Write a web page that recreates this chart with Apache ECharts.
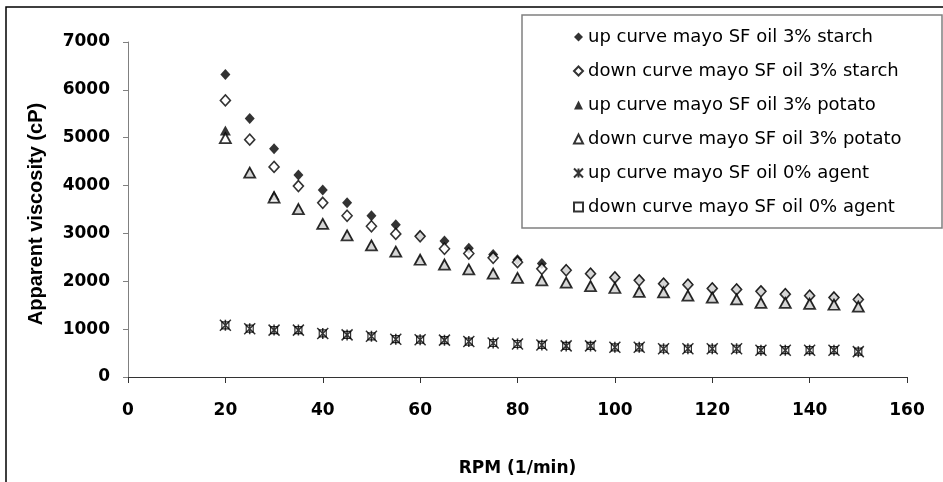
<!DOCTYPE html>
<html>
<head>
<meta charset="utf-8">
<script src="https://cdn.jsdelivr.net/npm/echarts@6/dist/echarts.min.js"></script>
<style>
html,body{margin:0;padding:0;background:#fff;}
#chart{width:943px;height:482px;}
</style>
</head>
<body>
<div id="chart"></div>
<script>
// RPM values (x)
var rpm = [20,25,30,35,40,45,50,55,60,65,70,75,80,85,90,95,100,105,110,115,120,125,130,135,140,145,150];
// Apparent viscosity (cP)
var upStarch   = [6320,5400,4770,4220,3910,3640,3370,3180,2950,2840,2690,2560,2450,2370,2240,2170,2090,2030,1960,1940,1860,1840,1800,1740,1710,1670,1630];
var downStarch = [5780,4960,4390,3990,3640,3370,3150,2990,2940,2680,2580,2490,2400,2260,2230,2160,2080,2020,1950,1930,1850,1830,1790,1730,1700,1660,1620];
var upPotato   = [5150,4280,3800,3520,3210,2970,2760,2630,2460,2360,2260,2170,2080,2030,1980,1910,1870,1790,1780,1710,1670,1630,1560,1560,1540,1520,1480];
var downPotato = [4990,4270,3750,3510,3200,2960,2750,2620,2450,2350,2250,2160,2070,2020,1970,1900,1860,1780,1770,1700,1660,1620,1550,1550,1530,1510,1470];
var upAgent    = [1080,1010,980,980,910,880,850,790,780,770,740,710,690,670,650,650,620,620,590,590,590,590,560,560,560,560,530];
var downAgent  = [1080,1010,980,980,910,880,850,790,780,770,740,710,690,670,650,650,620,620,590,590,590,590,560,560,560,560,530];
var seriesNames = [
  'up curve mayo SF oil 3% starch',
  'down curve mayo SF oil 3% starch',
  'up curve mayo SF oil 3% potato',
  'down curve mayo SF oil 3% potato',
  'up curve mayo SF oil 0% agent',
  'down curve mayo SF oil 0% agent'
];
var xTicks = {min:0, max:160, interval:20};
var yTicks = {min:0, max:7000, interval:1000};

function pairs(ys){ return rpm.map(function(x,i){ return [x, ys[i]]; }); }

var STAR = 'path://M0,0L10,10M10,0L0,10M5,0L5,10';
var wideFont = '"DejaVu Sans", sans-serif';

var chart = echarts.init(document.getElementById('chart'), null, {renderer:'canvas'});
chart.setOption({
  animation:false,
  backgroundColor:'#fff',
  grid:{left:128, top:42, right:36, bottom:103, containLabel:false},
  xAxis:{
    type:'value', min:xTicks.min, max:xTicks.max, interval:xTicks.interval,
    name:'RPM (1/min)', nameLocation:'middle', nameGap:83,
    nameTextStyle:{fontFamily:wideFont, fontWeight:'bold', fontSize:17, color:'#000'},
    axisLine:{onZero:false, lineStyle:{color:'#333', width:1}},
    axisTick:{show:true, inside:false, length:6, lineStyle:{color:'#333'}},
    axisLabel:{margin:25, fontFamily:wideFont, fontWeight:'bold', fontSize:17, color:'#000',
      formatter:function(v){ return String(v); }},
    splitLine:{show:false}
  },
  yAxis:{
    type:'value', min:yTicks.min, max:yTicks.max, interval:yTicks.interval,
    axisLine:{show:true, lineStyle:{color:'#808080', width:1}},
    axisTick:{show:true, inside:false, length:5, lineStyle:{color:'#808080'}},
    axisLabel:{margin:18, fontFamily:wideFont, fontWeight:'bold', fontSize:17, color:'#000',
      formatter:function(v){ return String(v); }},
    splitLine:{show:false}
  },
  legend:{
    orient:'vertical', left:573, top:28, padding:0,
    itemGap:16, itemWidth:9, itemHeight:9, itemTextGap:5,
    textStyle:{fontFamily:wideFont, fontSize:18, color:'#000', lineHeight:18},
    selectedMode:false,
    data:[
      {name:seriesNames[0], icon:'diamond'},
      {name:seriesNames[1], icon:'diamond'},
      {name:seriesNames[2], icon:'triangle'},
      {name:seriesNames[3], icon:'triangle'},
      {name:seriesNames[4], icon:STAR},
      {name:seriesNames[5], icon:'rect'}
    ]
  },
  graphic:[
    {type:'rect', silent:true, z:-1, shape:{x:6, y:7, width:1000, height:600}, style:{fill:'none', stroke:'#000', lineWidth:1.5}},
    {type:'rect', silent:true, z:-1, shape:{x:522, y:15, width:420, height:213}, style:{fill:'none', stroke:'#808080', lineWidth:1.5}},
    {type:'text', silent:true, x:36, y:214, rotation:Math.PI/2,
     style:{text:'Apparent viscosity (cP)', fontFamily:'"Liberation Sans", Arial, sans-serif', fontWeight:'bold', fontSize:20, fill:'#000', align:'center', verticalAlign:'middle'}}
  ],
  series:[
    {name:seriesNames[0], type:'scatter', data:pairs(upStarch), symbol:'diamond', symbolSize:[10,11],
     itemStyle:{color:'#000'}},
    {name:seriesNames[1], type:'scatter', data:pairs(downStarch), symbol:'diamond', symbolSize:[10,11],
     itemStyle:{color:'#fff', borderColor:'#000', borderWidth:1.6}},
    {name:seriesNames[2], type:'scatter', data:pairs(upPotato), symbol:'triangle', symbolSize:[11,10],
     itemStyle:{color:'#000'}},
    {name:seriesNames[3], type:'scatter', data:pairs(downPotato), symbol:'triangle', symbolSize:[11,10],
     itemStyle:{color:'#fff', borderColor:'#000', borderWidth:1.8}},
    {name:seriesNames[4], type:'scatter', data:pairs(upAgent), symbol:STAR, symbolSize:[11,11],
     itemStyle:{color:'rgba(0,0,0,0)', borderColor:'#000', borderWidth:1.5}},
    {name:seriesNames[5], type:'scatter', data:pairs(downAgent), symbol:'rect', symbolSize:[7,7],
     itemStyle:{color:'rgba(0,0,0,0)', borderColor:'#000', borderWidth:1.2}}
  ]
});
</script>
</body>
</html>
